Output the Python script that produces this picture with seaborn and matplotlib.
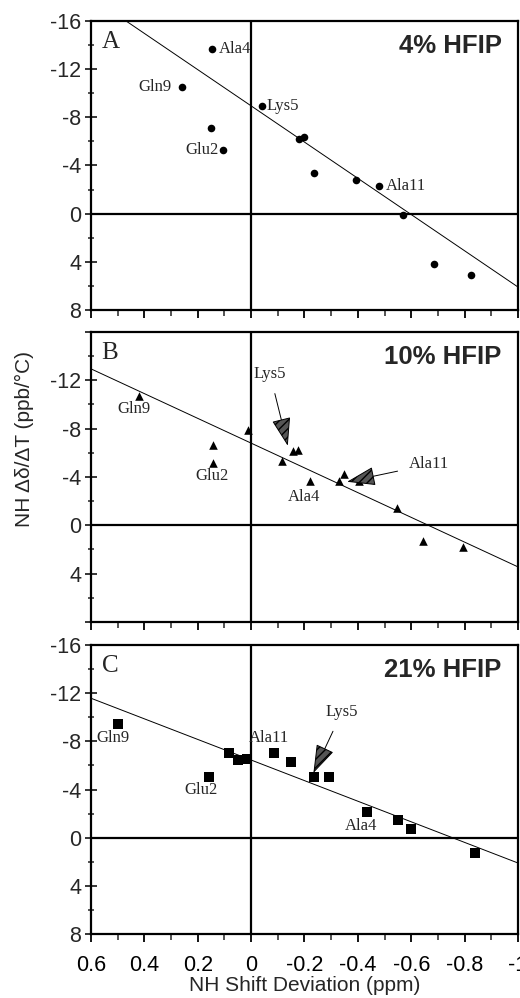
import numpy as np
import pandas as pd
import seaborn as sns
import matplotlib
matplotlib.use("Agg")
import matplotlib.pyplot as plt
from matplotlib.ticker import MultipleLocator

# ---------------- data ----------------
panel_letters = ["A", "B", "C"]
panel_titles = ["4% HFIP", "10% HFIP", "21% HFIP"]

A_x = [0.146, 0.26, -0.04, 0.152, 0.105, -0.179, -0.2, -0.2375, -0.395, -0.481, -0.57, -0.686, -0.8225]
A_y = [-13.66, -10.5, -8.9, -7.15, -5.3, -6.18, -6.37, -3.38, -2.77, -2.3, 0.08, 4.16, 5.07]

B_x = [0.421, 0.1425, 0.1425, 0.01, -0.116, -0.1575, -0.174, -0.221, -0.329, -0.35, -0.405, -0.546, -0.645, -0.7925]
B_y = [-10.7, -6.63, -5.17, -7.9, -5.36, -6.13, -6.19, -3.65, -3.65, -4.28, -3.7, -1.46, 1.27, 1.77]

C_x = [0.499, 0.1575, 0.081, 0.049, 0.015, -0.0875, -0.149, -0.235, -0.2925, -0.435, -0.549, -0.5975, -0.84]
C_y = [-9.43, -5.02, -7.06, -6.48, -6.57, -7.0, -6.26, -5.08, -5.02, -2.12, -1.46, -0.69, 1.30]

# fitted lines: y = intercept + slope * x
fit_slope = [-15.04, -10.24, -8.55]
fit_intercept = [-8.95, -6.8, -6.45]

# residue labels (text, x, y, ha)
A_labels = [("Ala4", 0.121, -13.65, "left"), ("Gln9", 0.297, -10.5, "right"),
            ("Lys5", -0.059, -8.9, "left"), ("Glu2", 0.123, -5.3, "right"),
            ("Ala11", -0.506, -2.3, "left")]
B_labels = [("Gln9", 0.44, -9.6, "center"), ("Glu2", 0.147, -4.06, "center"),
            ("Ala4", -0.2, -2.3, "center")]
C_labels = [("Gln9", 0.517, -8.3, "center"), ("Glu2", 0.1875, -3.93, "center"),
            ("Ala11", -0.0675, -8.3, "center"), ("Ala4", -0.4125, -1.0, "center")]
# arrows (text, text x, text y, tip x, tip y)
B_arrows = [("Lys5", -0.071, -12.5, -0.1375, -6.58), ("Ala11", -0.667, -5.03, -0.36, -3.6)]
C_arrows = [("Lys5", -0.34, -10.4, -0.2336, -5.38)]

x_ticks = [0.6, 0.4, 0.2, 0.0, -0.2, -0.4, -0.6, -0.8, -1.0]
x_ticklabels = ["0.6", "0.4", "0.2", "0", "-0.2", "-0.4", "-0.6", "-0.8", "-1"]
y_ticks = [-16, -12, -8, -4, 0, 4, 8]
y_ticklabels = ["-16", "-12", "-8", "-4", "0", "4", "8"]
y_ticklabels_B = ["", "-12", "-8", "-4", "0", "4", ""]

x_label = "NH Shift Deviation (ppm)"
y_label = "NH \u0394\u03b4/\u0394T (ppb/\u00b0C)"

# ---------------- style ----------------
sns.set_style("ticks")
plt.rcParams["font.family"] = ["Liberation Sans", "DejaVu Sans"]
plt.rcParams["hatch.linewidth"] = 1.0
SERIF = ["Liberation Serif", "DejaVu Serif"]

fig = plt.figure(figsize=(5.2, 9.98), dpi=100)
positions = [
    [0.175, 0.6894, 0.821, 0.2896],
    [0.175, 0.3768, 0.821, 0.2906],
    [0.175, 0.0641, 0.821, 0.2896],
]
xs = [A_x, B_x, C_x]
ys = [A_y, B_y, C_y]
markers = ["o", "^", "s"]
sizes = [30, 38, 42]
labels_all = [A_labels, B_labels, C_labels]
arrows_all = [[], B_arrows, C_arrows]

for i in range(3):
    ax = fig.add_axes(positions[i])
    df = pd.DataFrame({"x": xs[i], "y": ys[i]})
    ax.axhline(0, color="black", lw=1.6, zorder=1)
    ax.axvline(0, color="black", lw=1.6, zorder=1)
    line_x = np.array([0.6, -1.0])
    line_df = pd.DataFrame({"x": line_x, "y": fit_intercept[i] + fit_slope[i] * line_x})
    sns.lineplot(data=line_df, x="x", y="y", ax=ax, color="black", lw=0.7, zorder=2)
    sns.scatterplot(data=df, x="x", y="y", ax=ax, marker=markers[i], s=sizes[i],
                    color="black", edgecolor="black", linewidth=0, zorder=3)
    ax.set_xlim(0.6, -1.0)
    ax.set_ylim(8, -16)
    ax.set_xlabel("")
    ax.set_ylabel("")
    ax.set_xticks(x_ticks)
    ax.xaxis.set_minor_locator(MultipleLocator(0.1))
    ax.set_yticks(y_ticks)
    ax.yaxis.set_minor_locator(MultipleLocator(2))
    if i == 2:
        ax.set_xticklabels(x_ticklabels)
    else:
        ax.set_xticklabels([])
    ax.set_yticklabels(y_ticklabels_B if i == 1 else y_ticklabels)
    ax.tick_params(axis="x", which="major", direction="out", length=6, width=1.3,
                   labelsize=15.5, pad=9, colors="black")
    ax.tick_params(axis="x", which="minor", direction="out", length=4, width=1.1)
    ax.tick_params(axis="y", which="major", direction="inout", length=8, width=1.3,
                   labelsize=15.5, pad=3)
    ax.tick_params(axis="y", which="minor", direction="inout", length=5, width=1.1)
    for sp in ax.spines.values():
        sp.set_visible(True)
        sp.set_linewidth(1.6)
        sp.set_color("black")
    ax.text(0.025, 0.965, panel_letters[i], transform=ax.transAxes, ha="left", va="top",
            fontsize=18, family=SERIF)
    ax.text(0.962, 0.915, panel_titles[i], transform=ax.transAxes, ha="right", va="center",
            fontsize=18.5, fontweight="bold")
    for (t, lx, ly, ha) in labels_all[i]:
        ax.text(lx, ly, t, ha=ha, va="center", fontsize=12, family=SERIF)
    for (t, tx, ty, hx, hy) in arrows_all[i]:
        ax.annotate(t, xy=(hx, hy), xytext=(tx, ty), ha="center", va="center",
                    fontsize=12, family=SERIF,
                    arrowprops=dict(arrowstyle="-|>,head_length=1.5,head_width=0.5",
                                    facecolor="#555555", edgecolor="black", hatch="////",
                                    lw=0.7, shrinkA=6, shrinkB=0))

fig.text(0.048, 0.56, y_label, rotation=90, ha="center", va="center", fontsize=15)
fig.text(0.586, 0.013, x_label, ha="center", va="center", fontsize=15)

fig.savefig("out.png", dpi=100)
